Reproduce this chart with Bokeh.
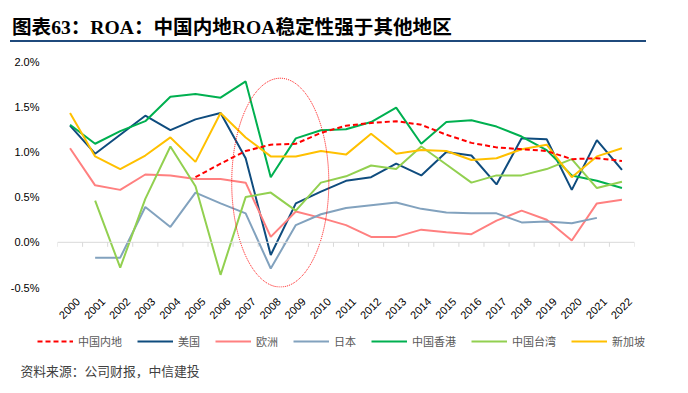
import math
import numpy as np
from bokeh.plotting import figure
from bokeh.models import (Div, Legend, LegendItem, Label, Span, FixedTicker,
                          Range1d, ColumnDataSource, LinearAxis)
from bokeh.layouts import column
from bokeh.embed import file_html
from bokeh.resources import INLINE

nan = float("nan")

# ---------------- data (ROA, %) ----------------
years = [str(y) for y in range(2000, 2023)]
mainland = [nan, nan, nan, nan, nan, 0.72, 0.87, 1.01, 1.08, 1.09, 1.21, 1.29,
            1.32, 1.34, 1.30, 1.19, 1.10, 1.05, 1.03, 1.01, 0.92, 0.93, 0.90]
usa = [1.29, 0.98, 1.19, 1.40, 1.24, 1.36, 1.43, 0.93, -0.14, 0.43, 0.56, 0.68,
       0.72, 0.87, 0.74, 1.00, 0.96, 0.64, 1.15, 1.14, 0.58, 1.13, 0.80]
europe = [1.04, 0.63, 0.58, 0.75, 0.74, 0.70, 0.70, 0.66, 0.06, 0.34, 0.27, 0.19,
          0.06, 0.06, 0.14, 0.11, 0.09, 0.24, 0.35, 0.25, 0.02, 0.43, 0.47]
japan = [nan, -0.17, -0.17, 0.39, 0.17, 0.55, 0.43, 0.32, -0.29, 0.19, 0.31, 0.38,
         0.41, 0.44, 0.37, 0.33, 0.32, 0.32, 0.22, 0.23, 0.21, 0.27, nan]
hongkong = [1.30, 1.09, 1.23, 1.34, 1.61, 1.64, 1.60, 1.78, 0.72, 1.15, 1.24, 1.25,
            1.33, 1.49, 1.09, 1.33, 1.35, 1.28, 1.17, 1.02, 0.74, 0.68, 0.60]
taiwan = [nan, 0.46, -0.28, 0.48, 1.06, 0.62, -0.36, 0.50, 0.55, 0.35, 0.66, 0.73,
          0.85, 0.81, 1.06, 0.86, 0.66, 0.74, 0.74, 0.81, 0.92, 0.60, 0.67]
singapore = [1.43, 0.95, 0.81, 0.96, 1.16, 0.89, 1.43, 1.16, 0.95, 0.95, 1.01, 0.97,
             1.20, 0.98, 1.02, 1.01, 0.91, 0.93, 1.03, 1.08, 0.72, 0.95, 1.04]
y_ticks = [-0.5, 0.0, 0.5, 1.0, 1.5, 2.0]

series_names = ["中国内地", "美国", "欧洲", "日本", "中国香港", "中国台湾", "新加坡"]
series_values = [mainland, usa, europe, japan, hongkong, taiwan, singapore]
series_colors = ["#FF0000", "#0F4C7E", "#FF8080", "#82A2BE", "#00B050", "#92D050", "#FFC000"]
series_dash = ["5 3", "solid", "solid", "solid", "solid", "solid", "solid"]

title_text = "图表63：ROA：中国内地ROA稳定性强于其他地区"
source_text = "资料来源：公司财报，中信建投"

# highlighted period (2008-2009 crisis), in category / % units
hl_x, hl_y, hl_w, hl_h = 8.38, 0.66, 3.87, 2.31
label_shift = 0.32  # slant-label nudge, in categories

# ---------------- main chart ----------------
xs = list(range(len(years)))
p = figure(width=672, height=283, x_range=Range1d(-0.5, len(years) - 0.5),
           y_range=Range1d(-0.5, 2.0), output_backend="svg", toolbar_location=None,
           x_axis_location=None,
           min_border_left=57, min_border_right=38, min_border_top=17,
           min_border_bottom=40)
p.outline_line_color = None
p.xgrid.visible = False
p.ygrid.visible = False

p.extra_x_ranges = {"lab": Range1d(-0.5 - label_shift, len(years) - 0.5 - label_shift)}
xa = LinearAxis(x_range_name="lab")
xa.ticker = FixedTicker(ticks=xs)
xa.major_label_overrides = {i: y for i, y in zip(xs, years)}
xa.major_label_orientation = math.pi / 4
xa.axis_line_color = None
xa.major_tick_line_color = None
xa.minor_tick_line_color = None
xa.major_label_standoff = 6
xa.major_label_text_font = "Liberation Sans"
xa.major_label_text_font_size = "11px"
xa.major_label_text_color = "#000000"
p.add_layout(xa, "below")

ya = p.yaxis[0]
ya.ticker = FixedTicker(ticks=y_ticks)
ya.major_label_overrides = {t: f"{t:.1f}%" for t in y_ticks}
ya.axis_line_color = None
ya.major_tick_line_color = None
ya.minor_tick_line_color = None
ya.major_label_standoff = 12
ya.major_label_text_font = "Liberation Sans"
ya.major_label_text_font_size = "11px"
ya.major_label_text_color = "#000000"

# zero line with category-boundary ticks
p.add_layout(Span(location=0, dimension="width", line_color="#D9D9D9", line_width=1))
bounds = np.arange(len(years) + 1) - 0.5
p.segment(x0=bounds, y0=0, x1=bounds, y1=-0.05, line_color="#D9D9D9", line_width=1)

draw_order = [1, 2, 3, 4, 5, 6, 0]
for k in draw_order:
    src = ColumnDataSource(dict(x=xs, y=series_values[k]))
    p.line("x", "y", source=src, line_color=series_colors[k], line_width=2,
           line_dash=series_dash[k])

p.ellipse(x=[hl_x], y=[hl_y], width=[hl_w], height=[hl_h], fill_color=None,
          line_color="#FF0000", line_width=1, line_dash="1 1")

# ---------------- legend + source strip ----------------
LW, LH = 672, 57
q = figure(width=LW, height=LH, x_range=Range1d(0, LW), y_range=Range1d(0, LH),
           x_axis_type=None, y_axis_type=None, output_backend="svg",
           toolbar_location=None, min_border=0)
if "frame_align" in q.properties():
    q.frame_align = False
q.outline_line_color = None
q.grid.visible = False
items = []
for k, name in enumerate(series_names):
    r = q.line(x=[nan], y=[nan], line_color=series_colors[k], line_width=2,
               line_dash=series_dash[k])
    items.append(LegendItem(label=name, renderers=[r]))
legend = Legend(items=items, location=(37, 35), orientation="horizontal", spacing=15,
                padding=0, margin=0, glyph_width=36, glyph_height=12,
                label_standoff=5, label_text_font_size="11px",
                label_text_font="Noto Sans CJK SC", label_text_color="#595959",
                border_line_color=None, background_fill_alpha=0)
q.add_layout(legend)
q.add_layout(Label(x=20, y=14, text=source_text, text_font="Noto Sans CJK SC",
                   text_font_size="12.8px", text_color="#404040",
                   text_baseline="middle"))

# ---------------- title ----------------
title_html = ('<div style="margin-left:5px;width:636px;border-bottom:2px solid #1F4A7C;'
              'padding:11px 0 0 2px;font-family:\'Liberation Serif\',\'Noto Sans CJK SC\',serif;'
              'font-weight:bold;font-size:19.6px;line-height:24px;color:#000;white-space:nowrap;">'
              + title_text + '</div>')
title_div = Div(text=title_html, width=672, height=34)

layout = column(title_div, p, q)
open("out.html", "w").write(file_html(layout, INLINE))
